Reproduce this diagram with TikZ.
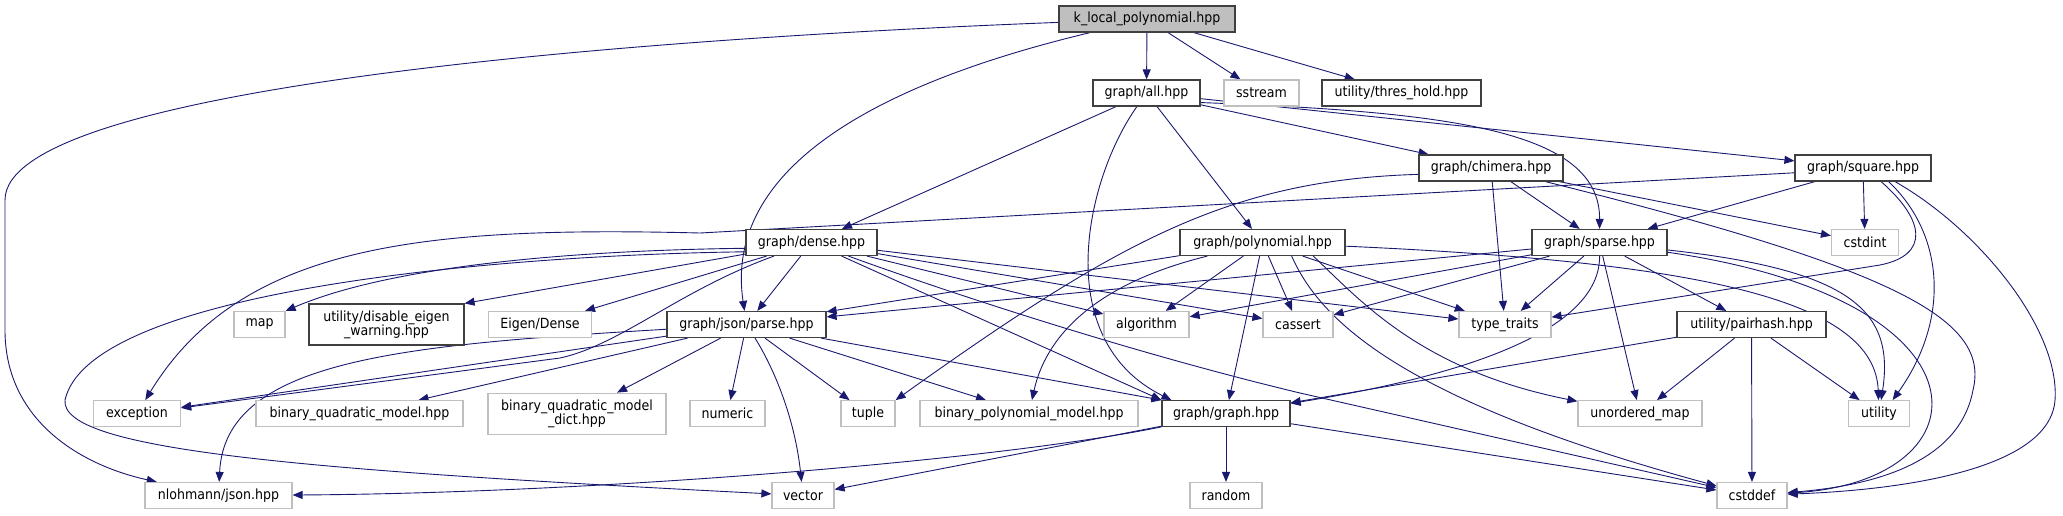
\documentclass[tikz,border=0pt]{standalone}
\usepackage{fontspec}
\setmainfont{DejaVu Sans}[FakeStretch=0.9]
\usetikzlibrary{arrows.meta,backgrounds}
\definecolor{edgeblue}{HTML}{191970}
\definecolor{boxdark}{HTML}{404040}
\definecolor{boxlight}{HTML}{BFBFBF}
\tikzset{
  incbox/.style={rectangle, draw=boxdark, line width=1.2pt, fill=white, inner sep=0pt,
    minimum height=26pt, text=black, font=\fontsize{14}{14}\selectfont},
  extbox/.style={incbox, draw=boxlight},
  rootbox/.style={incbox, fill=boxlight},
  dep/.style={draw=edgeblue, line width=0.9pt, -{Triangle[length=10pt,width=8pt]}},
}
\begin{document}
\begin{tikzpicture}[x=1pt,y=-1pt]
\useasboundingbox (0,0) rectangle (2063,515);
% nodes
\node[rootbox, minimum width=176pt] (root) at (1147,19) {k\_local\_polynomial.hpp};
\node[incbox, minimum width=107pt] (all) at (1146.5,93) {graph/all.hpp};
\node[extbox, minimum width=75pt] (sstream) at (1261.5,93) {sstream};
\node[incbox, minimum width=159pt] (thres) at (1401.5,93) {utility/thres\_hold.hpp};
\node[incbox, minimum width=144pt] (chimera) at (1491,168) {graph/chimera.hpp};
\node[incbox, minimum width=136pt] (square) at (1863,168) {graph/square.hpp};
\node[incbox, minimum width=131pt] (dense) at (811.5,242.5) {graph/dense.hpp};
\node[incbox, minimum width=165pt] (poly) at (1262.5,242.5) {graph/polynomial.hpp};
\node[incbox, minimum width=135pt] (sparse) at (1599.5,242.5) {graph/sparse.hpp};
\node[extbox, minimum width=67pt] (cstdint) at (1865,242.5) {cstdint};
\node[extbox, minimum width=51pt] (map) at (259.5,324.5) {map};
\node[incbox, minimum width=155pt, minimum height=41pt, align=center] (diseig) at (386.5,324.5) {utility/disable\_eigen\\\_warning.hpp};
\node[extbox, minimum width=103pt] (eigen) at (540,324.5) {Eigen/Dense};
\node[incbox, minimum width=159pt] (parse) at (746.5,324.5) {graph/json/parse.hpp};
\node[extbox, minimum width=85pt] (algorithm) at (1146.5,324.5) {algorithm};
\node[extbox, minimum width=70pt] (cassert) at (1298,324.5) {cassert};
\node[extbox, minimum width=92pt] (typetraits) at (1505,324.5) {type\_traits};
\node[incbox, minimum width=149pt] (pairhash) at (1751.5,324.5) {utility/pairhash.hpp};
\node[extbox, minimum width=87pt] (exception) at (137,413.7) {exception};
\node[extbox, minimum width=207pt] (bqm) at (359.5,413.7) {binary\_quadratic\_model.hpp};
\node[extbox, minimum width=178pt, minimum height=41pt, align=center] (bqmdict) at (577,413.7) {binary\_quadratic\_model\\\_dict.hpp};
\node[extbox, minimum width=75pt] (numeric) at (727.5,413.7) {numeric};
\node[extbox, minimum width=54pt] (tuple) at (868,413.7) {tuple};
\node[extbox, minimum width=218pt] (bpm) at (1029,413.7) {binary\_polynomial\_model.hpp};
\node[incbox, minimum width=128pt] (graph) at (1226,413.7) {graph/graph.hpp};
\node[extbox, minimum width=124pt] (umap) at (1640,413.7) {unordered\_map};
\node[extbox, minimum width=61pt] (utility) at (1879,413.7) {utility};
\node[extbox, minimum width=147pt] (nlohmann) at (218.5,495.5) {nlohmann/json.hpp};
\node[extbox, minimum width=62pt] (vector) at (803,495.5) {vector};
\node[extbox, minimum width=72pt] (random) at (1226,495.5) {random};
\node[extbox, minimum width=70pt] (cstddef) at (1752,495.5) {cstddef};

\begin{pgfonlayer}{background}
% root
\draw[dep] (root) -- (all);
\draw[dep] (root) -- (sstream);
\draw[dep] (root) -- (thres);
\draw[dep] (root) .. controls (600,40) and (5,90) .. (5,200) -- (5,330) .. controls (5,420) and (80,465) .. (nlohmann);
\draw[dep] (root) .. controls (850,90) and (725,180) .. (parse);
% all
\draw[dep] (all) -- (dense);
\draw[dep] (all) .. controls (1085,180) and (1050,340) .. (graph.166);
\draw[dep] (all) -- (poly);
\draw[dep] (all) -- (chimera);
\draw[dep] (all.-10) .. controls (1450,112) and (1600,130) .. (sparse);
\draw[dep] (all) -- (square);
% chimera
\draw[dep] (chimera) -- (sparse);
\draw[dep] (chimera) -- (cstdint);
\draw[dep] (chimera) -- (typetraits);
\draw[dep] (chimera.185) .. controls (1230,180) and (1120,240) .. (tuple.north east);
\draw[dep] (chimera) .. controls (1900,270) and (1990,320) .. (1973,390) .. controls (1960,460) and (1880,485) .. (cstddef);
% square
\draw[dep] (square) -- (sparse);
\draw[dep] (square) -- (cstdint);
\draw[dep] (square.-37) .. controls (1925,220) and (1930,255) .. (1880,265) -- (typetraits);
\draw[dep] (square.-28) .. controls (1945,235) and (1950,320) .. (utility.45);
\draw[dep] (square.-23) .. controls (1980,230) and (2060,330) .. (2055,400) .. controls (2050,470) and (1900,490) .. (cstddef);
\draw[dep] (square.184) -- (700,233) .. controls (420,226) and (240,245) .. (exception);
% dense
\draw[dep] (dense.188) .. controls (500,255) and (90,290) .. (65,400) .. controls (60,450) and (300,470) .. (vector);
\draw[dep] (dense.185) .. controls (600,250) and (400,262) .. (map.north east);
\draw[dep] (dense) -- (diseig.north east);
\draw[dep] (dense) -- (eigen);
\draw[dep] (dense) -- (parse);
\draw[dep] (dense) .. controls (680,290) and (620,345) .. (560,358) -- (exception);
\draw[dep] (dense) -- (algorithm);
\draw[dep] (dense) -- (cassert);
\draw[dep] (dense) -- (typetraits);
\draw[dep] (dense) -- (graph.north west);
\draw[dep] (dense) .. controls (900,275) and (1100,345) .. (1300,393) -- (cstddef);
% parse
\draw[dep] (parse) .. controls (400,345) and (225,360) .. (nlohmann);
\draw[dep] (parse) -- (exception);
\draw[dep] (parse) -- (bqm);
\draw[dep] (parse) -- (bqmdict);
\draw[dep] (parse) -- (numeric);
\draw[dep] (parse) .. controls (775,370) and (795,420) .. (vector);
\draw[dep] (parse) -- (tuple);
\draw[dep] (parse) -- (bpm);
\draw[dep] (parse) -- (graph.north west);
% polynomial
\draw[dep] (poly) -- (parse);
\draw[dep] (poly) .. controls (1090,285) and (1045,340) .. (bpm);
\draw[dep] (poly) -- (algorithm);
\draw[dep] (poly) -- (graph);
\draw[dep] (poly) -- (cassert);
\draw[dep] (poly) -- (typetraits);
\draw[dep] (poly.-15) .. controls (1360,300) and (1420,370) .. (umap);
\draw[dep] (poly.-25) .. controls (1320,320) and (1400,400) .. (cstddef);
\draw[dep] (poly) .. controls (1700,262) and (1875,300) .. (utility);
% sparse
\draw[dep] (sparse) -- (parse);
\draw[dep] (sparse) -- (cassert);
\draw[dep] (sparse) -- (algorithm);
\draw[dep] (sparse) -- (typetraits);
\draw[dep] (sparse) .. controls (1600,320) and (1500,370) .. (graph);
\draw[dep] (sparse) -- (umap);
\draw[dep] (sparse) -- (pairhash);
\draw[dep] (sparse) .. controls (1850,270) and (1895,310) .. (utility);
\draw[dep] (sparse) .. controls (2000,300) and (1990,480) .. (cstddef);
% pairhash
\draw[dep] (pairhash) -- (graph);
\draw[dep] (pairhash) -- (umap);
\draw[dep] (pairhash) -- (cstddef);
\draw[dep] (pairhash) -- (utility);
% graph
\draw[dep] (graph) -- (random);
\draw[dep] (graph) -- (vector);
\draw[dep] (graph) .. controls (1000,460) and (600,493) .. (nlohmann);
\draw[dep] (graph) -- (cstddef);
\end{pgfonlayer}
\end{tikzpicture}
\end{document}
